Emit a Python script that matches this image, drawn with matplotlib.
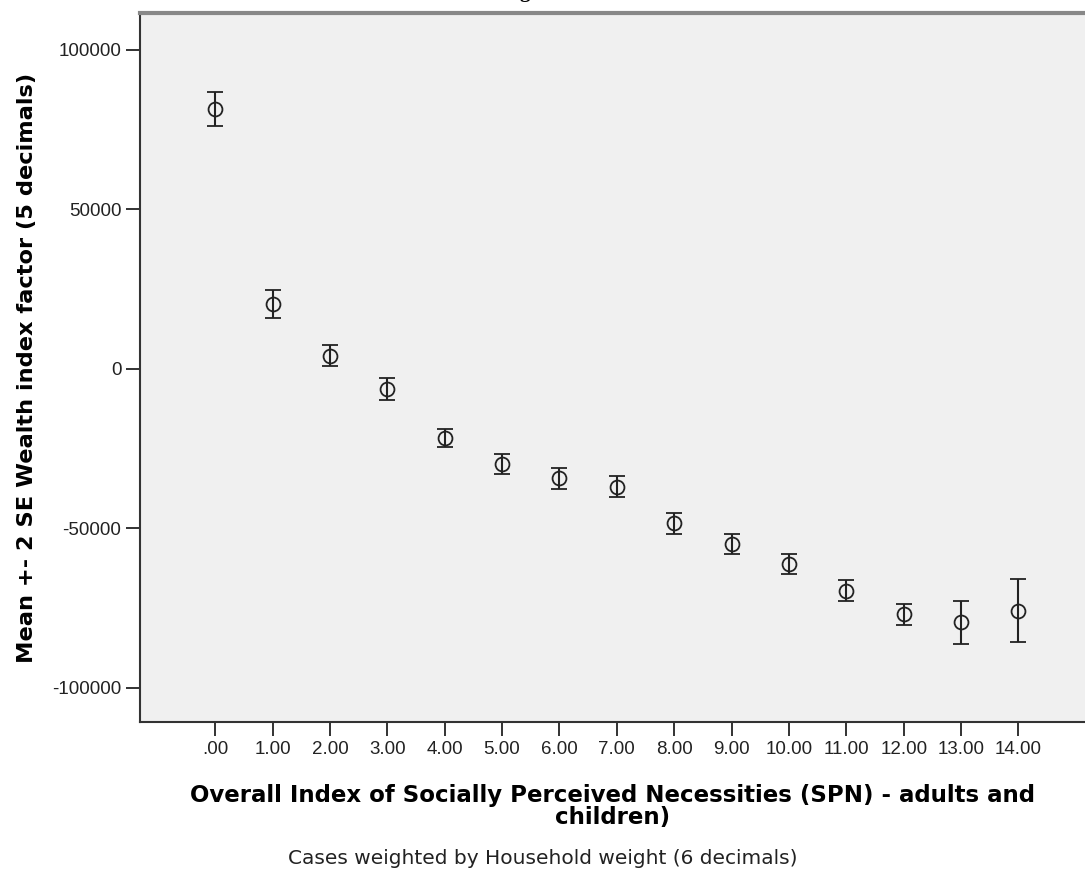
# SPSS風のエラーバー図（平均 ± 2 SE）
import matplotlib
matplotlib.use("Agg")
import matplotlib.pyplot as plt
import numpy as np

# データ
spn = [0, 1, 2, 3, 4, 5, 6, 7, 8, 9, 10, 11, 12, 13, 14]
tick_labels = [".00", "1.00", "2.00", "3.00", "4.00", "5.00", "6.00", "7.00",
               "8.00", "9.00", "10.00", "11.00", "12.00", "13.00", "14.00"]
mean_wealth = [81400, 20400, 4200, -6200, -21700, -29800, -34300, -36900,
               -48400, -55000, -61200, -69600, -76900, -79400, -75800]
err_2se = [5300, 4450, 3340, 3500, 2900, 3000, 3200, 3300,
           3300, 3100, 3100, 3300, 3300, 6700, 9900]
y_ticks = [100000, 50000, 0, -50000, -100000]

plt.rcParams['font.family'] = ['Liberation Sans', 'DejaVu Sans']
plt.rcParams['axes.unicode_minus'] = False

fig = plt.figure(figsize=(10.85, 8.85), dpi=100)
ax = fig.add_axes([140 / 1085, 1 - 722 / 885, 1 - 140 / 1085, (722 - 13) / 885])
ax.set_facecolor("#f0f0f0")

ax.errorbar(spn, mean_wealth, yerr=err_2se, fmt="o", mfc="none", mec="#222222",
            mew=1.3, ms=10, ecolor="#222222", elinewidth=1.5, capsize=5.5, capthick=1.5)

ax.set_xlim(-1.31, 15.16)
ax.set_ylim(-110700, 111600)
ax.set_xticks(spn)
ax.set_xticklabels(tick_labels)
ax.set_yticks(y_ticks)
ax.tick_params(axis="both", direction="out", length=10, width=1.3, color="#222222",
               labelsize=13.5, labelcolor="#222222")

for side in ["left", "bottom"]:
    ax.spines[side].set_color("#333333")
    ax.spines[side].set_linewidth(1.5)
ax.spines["right"].set_visible(False)
ax.spines["top"].set_color("#888888")
ax.spines["top"].set_linewidth(3)

# 軸ラベルは横に広いフォントで
ax.set_xlabel("Overall Index of Socially Perceived Necessities (SPN) - adults and\nchildren)",
              fontsize=16.5, fontweight="bold", labelpad=19, linespacing=0.92,
              family="DejaVu Sans")
ax.set_ylabel("Mean +- 2 SE Wealth index factor (5 decimals)",
              fontsize=16.2, fontweight="bold", labelpad=11, family="DejaVu Sans")

fig.text(0.5, 1 - 858 / 885, "Cases weighted by Household weight (6 decimals)",
         ha="center", va="center", fontsize=14.5, color="#222222", family="DejaVu Sans")
# 切れているタイトルの一部
fig.text(0.484, 1.003, "g", ha="center", va="baseline", fontsize=15,
         fontweight="bold", family="Liberation Serif")

fig.savefig("out.png", dpi=100)
